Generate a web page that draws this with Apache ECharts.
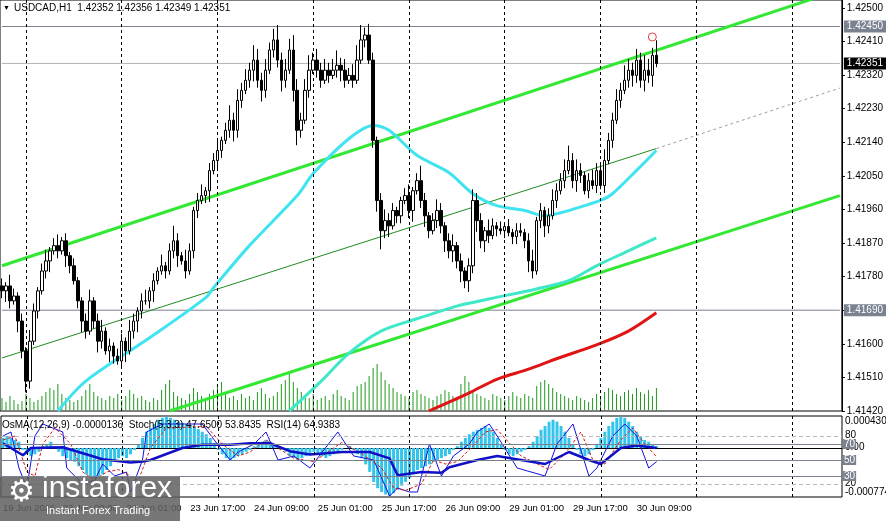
<!DOCTYPE html>
<html>
<head>
<meta charset="utf-8" />
<title>USDCAD,H1</title>
<script src="https://cdn.jsdelivr.net/npm/echarts@6/dist/echarts.min.js"></script>
<style>
html,body{margin:0;padding:0;background:#fff;}
#chart{width:886px;height:521px;}
</style>
</head>
<body>
<div id="chart"></div>
<script type="text/javascript">

// closes of each H1 bar (open = previous close)
var closes = [
 1.41742,1.41755,1.41715,1.41728,1.41661,1.41581,1.41500,1.41607,1.41688,1.41742,
 1.41795,1.41822,1.41849,1.41863,1.41849,1.41876,1.41836,1.41809,1.41769,1.41715,
 1.41661,1.41634,1.41715,1.41661,1.41607,1.41634,1.41581,1.41594,1.41567,1.41554,
 1.41607,1.41581,1.41634,1.41661,1.41688,1.41715,1.41715,1.41742,1.41769,1.41795,
 1.41809,1.41795,1.41849,1.41876,1.41836,1.41822,1.41795,1.41849,1.41957,1.41984,
 1.41997,1.42010,1.42064,1.42091,1.42118,1.42145,1.42172,1.42199,1.42172,1.42252,
 1.42279,1.42306,1.42333,1.42360,1.42306,1.42279,1.42333,1.42387,1.42414,1.42360,
 1.42306,1.42333,1.42387,1.42279,1.42172,1.42199,1.42279,1.42333,1.42360,1.42333,
 1.42306,1.42333,1.42319,1.42333,1.42346,1.42333,1.42306,1.42319,1.42306,1.42360,
 1.42414,1.42427,1.42360,1.42145,1.41984,1.41903,1.41930,1.41916,1.41957,1.41943,
 1.41984,1.41997,1.41957,1.42010,1.42037,1.41984,1.41943,1.41903,1.41930,1.41957,
 1.41916,1.41876,1.41849,1.41863,1.41822,1.41795,1.41769,1.41809,1.41984,1.41930,
 1.41876,1.41903,1.41890,1.41916,1.41908,1.41903,1.41914,1.41898,1.41887,1.41903,
 1.41898,1.41876,1.41822,1.41795,1.41930,1.41957,1.41916,1.41943,1.41984,1.42010,
 1.42037,1.42064,1.42091,1.42037,1.42064,1.42051,1.42010,1.42037,1.42024,1.42064,
 1.42024,1.42091,1.42145,1.42199,1.42252,1.42279,1.42306,1.42333,1.42319,1.42360,
 1.42306,1.42333,1.42319,1.42373,1.42351
];
// wick sizes in pips above / below the body
var wickUp = [
 2,1,3,2,1,2,1,3,2,1, 2,3,1,2,3,1,2,1,2,1, 1,2,3,1,2,3,1,2,1,2, 2,1,3,2,1,2,3,1,2,1,
 3,1,2,4,2,1,3,2,1,2, 3,1,2,2,3,1,2,4,2,3, 2,3,2,4,3,2,3,2,3,4, 2,3,3,4,3,2,3,4,2,3,
 2,3,2,3,4,2,3,2,3,4, 4,2,3,2,1,2,3,2,2,1, 1,2,3,1,2,4,2,1,2,3, 2,1,2,3,1,2,1,2,3,2,
 2,1,3,2,1,2,1,2,1,2, 2,1,2,3,1,2,1,2,3,2, 2,3,4,2,3,2,1,2,3,2, 2,3,2,2,3,2,4,3,2,3,
 2,4,3,2,4
];
var wickDn = [
 2,3,2,1,3,2,3,2,1,2, 1,2,3,1,2,1,3,2,1,2, 3,2,1,2,3,2,1,3,2,1, 2,3,1,2,3,2,1,2,3,1,
 1,2,1,2,3,1,2,1,2,2, 1,2,3,1,2,2,1,2,3,2, 2,1,2,3,2,3,2,1,2,2, 3,2,1,3,4,2,1,2,1,2,
 2,1,2,1,2,3,2,1,2,1, 1,2,1,2,3,5,2,3,1,2, 2,1,2,3,1,2,3,2,1,2, 2,3,2,3,2,3,2,3,2,3,
 2,3,2,1,2,1,2,1,2,2, 1,2,3,2,1,2,3,2,1,2, 1,2,1,2,3,2,1,2,1,2, 1,2,1,2,1,2,1,2,3,2,
 2,3,2,3,1
];
var volumes = [
 12,8,14,10,6,9,16,12,8,10, 14,18,22,20,26,16,12,10,8,10,
 14,20,26,18,14,12,10,14,12,16, 10,14,20,16,12,14,10,8,12,10,
 20,26,30,18,14,12,10,16,22,18, 14,12,16,20,24,28,16,12,14,10,
 16,12,14,10,18,22,16,12,14,18, 26,30,36,28,22,18,14,12,16,10,
 12,14,10,16,20,14,12,10,18,24, 26,28,34,42,46,38,30,26,22,18,
 16,14,12,18,20,16,14,12,10,14, 16,20,18,14,12,26,34,28,20,16,
 14,12,10,16,14,12,10,14,18,14, 12,16,14,12,24,28,30,26,22,18,
 16,14,12,10,14,12,10,8,12,16, 14,18,22,20,16,14,18,20,16,22,
 18,16,20,14,22
];
// moving averages [bar, price]
var maFast = [[14,1.41420],[21,1.41500],[37,1.41616],[51,1.41723],[53,1.41750],[62,1.41863],[74,1.41997],[78,1.42056],[87,1.42150],[93,1.42185],[97,1.42172],[104,1.42105],[112,1.42059],[118,1.42002],[124,1.41970],[131,1.41957],[136,1.41943],[140,1.41951],[146,1.41970],[150,1.41984],[153,1.42002],[159,1.42064],[164,1.42118]];
var maSlow = [[72,1.41420],[80,1.41500],[87,1.41575],[95,1.41634],[104,1.41667],[114,1.41701],[122,1.41720],[134,1.41747],[142,1.41769],[149,1.41809],[157,1.41849],[164,1.41884]];
var maRed = [[107,1.41420],[117,1.41468],[124,1.41505],[132,1.41532],[139,1.41560],[149,1.41597],[157,1.41634],[164,1.41683]];
// channel lines [bar, price]
var chanUpper = [[0,1.41809],[210,1.42548]];
var chanLower = [[42,1.41420],[210,1.41997]];
var chanMid = [[0,1.41562],[164,1.42123]];
var chanMidExt = [[164,1.42123],[210,1.42285]];
var priceLevels = [1.42450, 1.42351, 1.41690];

// indicator pane
var osma = [
 16,19,16,13,10,-3,-10,-13,-10,-6, 3,6,10,3,-6,-13,-16,-19,-22,-29,
 -35,-42,-45,-48,-45,-42,-35,-29,-22,-16, -13,-16,-10,-3,6,16,26,32,38,45,
 48,50,48,45,42,40,38,36,34,30, 26,22,16,8,-3,-10,-16,-19,-16,-13,
 -10,-6,-3,3,6,10,13,10,6,3, -3,-6,-13,-16,-19,-16,-13,-10,-6,-10,
 -13,-16,-13,-10,-6,-3,0,3,-3,-10, -16,-26,-38,-54,-64,-70,-74,-76,-72,-66,
 -60,-54,-48,-42,-35,-32,-29,-26,-22,-19, -16,-13,-10,-3,3,10,16,22,26,29,
 32,35,32,26,16,6,-3,-10,-13,-10, -6,-3,3,10,19,29,35,42,45,42,
 35,26,16,6,-3,-10,-13,-10,-3,6, 16,26,35,42,48,50,48,42,35,26,
 19,13,10,6,3
];
var stochMain = [[0,80],[2,85],[4,40],[6,15],[8,80],[10,95],[15,85],[16,40],[20,20],[23,25],[25,45],[28,30],[31,35],[32,10],[35,50],[36,85],[40,95],[50,95],[53,75],[57,50],[59,60],[63,70],[66,85],[69,50],[73,55],[77,40],[84,85],[88,55],[93,50],[97,5],[99,15],[102,10],[104,10],[107,70],[110,30],[113,55],[117,70],[119,85],[122,95],[124,80],[129,40],[136,30],[139,70],[143,95],[147,30],[149,40],[153,80],[156,95],[159,80],[162,40],[164,48]];
var stochSignal = [[0,75],[3,80],[6,35],[8,30],[10,70],[13,90],[17,70],[20,35],[23,25],[26,35],[29,38],[32,30],[34,25],[37,65],[41,90],[51,92],[55,70],[59,55],[62,60],[66,75],[69,65],[73,52],[78,48],[85,72],[90,58],[95,40],[98,15],[101,12],[105,20],[108,50],[111,45],[114,48],[118,68],[121,85],[124,88],[130,55],[137,38],[141,58],[145,85],[148,50],[151,45],[155,75],[158,90],[161,70],[164,54]];
var rsi = [[0,71],[5,56],[7,65],[15,66],[25,51],[32,47],[35,48],[37,50],[45,65],[50,69],[57,69],[62,71],[67,71],[72,61],[77,57],[85,60],[92,60],[97,52],[99,31],[105,35],[110,34],[112,41],[119,50],[124,55],[130,50],[136,45],[142,60],[147,50],[150,45],[155,65],[159,68],[164,65]];
var levelsDashed = [80, 20];
var levelsSolid = [70, 50, 30];

// time axis
var barCount = 211;
var timeLabels = {0:'19 Jun 2026',15:'22 Jun 09:00',31:'23 Jun 01:00',47:'23 Jun 17:00',63:'24 Jun 09:00',79:'25 Jun 01:00',95:'25 Jun 17:00',111:'26 Jun 09:00',127:'29 Jun 01:00',143:'29 Jun 17:00',159:'30 Jun 09:00'};
var sepBars = [6,30,54,78,102,126,150,174,198];

var cats = [];
for (var i = 0; i < barCount; i++) cats.push(timeLabels[i] || '');

var candles = [];
for (var i = 0; i < closes.length; i++) {
	var o = i ? closes[i-1] : 1.41755;
	var c = closes[i];
	candles.push([o, c, Math.min(o,c) - wickDn[i]*0.0001, Math.max(o,c) + wickUp[i]*0.0001]);
}

var font = 'Liberation Sans';
var sepLines = {symbol:'none', silent:true, label:{show:false},
	lineStyle:{color:'#000', type:[3,3], width:1},
	data: sepBars.map(function(b){ return {xAxis:b}; })};
// horizontal price level with a tag on the axis
function level(v, bg, lc) {
	return {type:'line', data:[[0,v],[barCount-1,v]], symbol:'none', silent:true, z:2,
		lineStyle:{color:lc, width:1},
		endLabel:{show:true, formatter:v.toFixed(5), color:'#fff', backgroundColor:bg,
			padding:[1,3], fontSize:10, fontFamily:font, distance:4}};
}

var myChart = echarts.init(document.getElementById('chart'));
var option = {
	backgroundColor: '#fff',
	animation: false,
	textStyle: {fontFamily: font},
	grid: [
		{left:0, right:44, top:0, height:411, show:true, borderColor:'#000', borderWidth:1},
		{left:0, right:44, top:310, height:100},
		{left:0, right:44, top:416, height:81, show:true, borderColor:'#000', borderWidth:1}
	],
	xAxis: [
		{type:'category', gridIndex:0, data:cats, boundaryGap:true, axisLine:{show:false}, axisTick:{show:false}, axisLabel:{show:false}},
		{type:'category', gridIndex:1, data:cats, boundaryGap:true, show:false},
		{type:'category', gridIndex:2, data:cats, boundaryGap:true,
			axisLine:{lineStyle:{color:'#000'}},
			axisTick:{interval:function(i){return !!timeLabels[i];}, length:3, lineStyle:{color:'#000'}},
			axisLabel:{interval:function(i){return !!timeLabels[i];}, align:'left', margin:6, fontSize:9.5, color:'#000', fontFamily:font}}
	],
	yAxis: [
		{type:'value', gridIndex:0, position:'right', min:1.41420, max:1.42521, interval:0.0009,
			axisLine:{show:true, lineStyle:{color:'#000'}},
			axisTick:{show:true, length:3, lineStyle:{color:'#000'}},
			splitLine:{show:false},
			axisLabel:{showMaxLabel:false, fontSize:10, color:'#000', margin:5, fontFamily:font, formatter:function(v){return v.toFixed(5);}}},
		{type:'value', gridIndex:1, min:0, max:100, show:false},
		{type:'value', gridIndex:2, min:3.75, max:105, show:false},
		{type:'value', gridIndex:2, min:-78, max:51, show:false}
	],
	series: [
		{type:'bar', xAxisIndex:1, yAxisIndex:1, data:volumes, barWidth:1, itemStyle:{color:'#1f9a1f'}, silent:true},
		level(priceLevels[0], '#7a8290', '#7a8290'),
		level(priceLevels[1], '#000', '#b4b4b4'),
		level(priceLevels[2], '#7a8290', '#7a8290'),
		{type:'line', data:chanLower, symbol:'none', lineStyle:{color:'#33e833', width:3}, z:3},
		{type:'line', data:chanUpper, symbol:'none', lineStyle:{color:'#33e833', width:3}, z:3},
		{type:'line', data:chanMid, symbol:'none', lineStyle:{color:'#1e8c1e', width:1}, z:3},
		{type:'line', data:chanMidExt, symbol:'none', lineStyle:{color:'#a0a0a0', width:1, type:[3,3]}, z:3},
		{type:'line', data:maSlow, symbol:'none', smooth:0.3, lineStyle:{color:'#3ee8c8', width:3}, z:4},
		{type:'line', data:maFast, symbol:'none', smooth:0.3, lineStyle:{color:'#40e4f0', width:3}, z:4},
		{type:'line', data:maRed, symbol:'none', smooth:0.3, lineStyle:{color:'#e01414', width:3}, z:4},
		{type:'candlestick', data:candles, barWidth:3, z:5,
			itemStyle:{color:'#fff', color0:'#000', borderColor:'#000', borderColor0:'#000', borderWidth:1},
			markLine:sepLines,
			markPoint:{symbol:'circle', symbolSize:8, silent:true, label:{show:false},
				itemStyle:{color:'rgba(0,0,0,0)', borderColor:'#e04040', borderWidth:1},
				data:[{coord:[163, 1.42422]}]}
		},
		// indicator pane
		{type:'bar', xAxisIndex:2, yAxisIndex:3, data:osma, barWidth:3, itemStyle:{color:'#33c4ec'}, markLine:sepLines},
		{type:'line', xAxisIndex:2, yAxisIndex:2, data:stochMain, symbol:'none', lineStyle:{color:'#1010e0', width:1},
			markLine:{symbol:'none', silent:true, label:{show:false}, data:
				levelsDashed.map(function(v){return {yAxis:v, lineStyle:{color:'#b8b8b8', type:[4,3], width:1}};}).concat(
				levelsSolid.map(function(v){return {yAxis:v, lineStyle:{color:'#7a8290', type:'solid', width:1},
					label:{show:true, position:'end', formatter:String(v), color:'#fff', backgroundColor:'#7a8290', padding:[0,1], fontSize:10, distance:1}};}))}},
		{type:'line', xAxisIndex:2, yAxisIndex:2, data:stochSignal, symbol:'none', lineStyle:{color:'#e01414', width:1, type:[3,2]}},
		{type:'line', xAxisIndex:2, yAxisIndex:2, data:rsi, symbol:'none', lineStyle:{color:'#1010c8', width:2.5}}
	],
	graphic: [
		{type:'text', left:3, top:5, style:{text:'\u25BC', fontSize:7, fill:'#000'}},
		{type:'text', left:14, top:3, style:{text:'USDCAD,H1  1.42352 1.42356 1.42349 1.42351', font:'10px "Liberation Sans"', fill:'#000'}},
		{type:'text', left:2, top:420, style:{text:'OsMA(12,26,9) -0.0000136  Stoch(5,3,3) 47.6500 53.8435  RSI(14) 64.9383', font:'10px "Liberation Sans"', fill:'#000'}, z:50},
		{type:'text', left:845, top:416, style:{text:'0.0004302', font:'10px "Liberation Sans"', fill:'#000'}},
		{type:'text', left:845, top:430, style:{text:'80', font:'10px "Liberation Sans"', fill:'#000'}},
		{type:'text', left:845, top:442, style:{text:'0.00', font:'10px "Liberation Sans"', fill:'#000'}},
		{type:'text', left:845, top:478, style:{text:'20', font:'10px "Liberation Sans"', fill:'#000'}},
		{type:'text', left:845, top:487, style:{text:'-0.000774', font:'10px "Liberation Sans"', fill:'#000'}},
		{type:'rect', left:0, top:477, shape:{width:180, height:44}, style:{fill:'rgba(95,95,95,0.85)'}, z:60},
		{type:'text', left:8, top:478, style:{text:'\u2699', font:'30px "DejaVu Sans"', fill:'#fff'}, z:61},
		{type:'text', left:42, top:474, style:{text:'instaforex', font:'30px "Liberation Sans"', fill:'#fff'}, z:61},
		{type:'text', left:46, top:505, style:{text:'Instant Forex Trading', font:'11px "Liberation Sans"', fill:'#fff'}, z:61}
	]
};
myChart.setOption(option);
</script>
</body>
</html>
